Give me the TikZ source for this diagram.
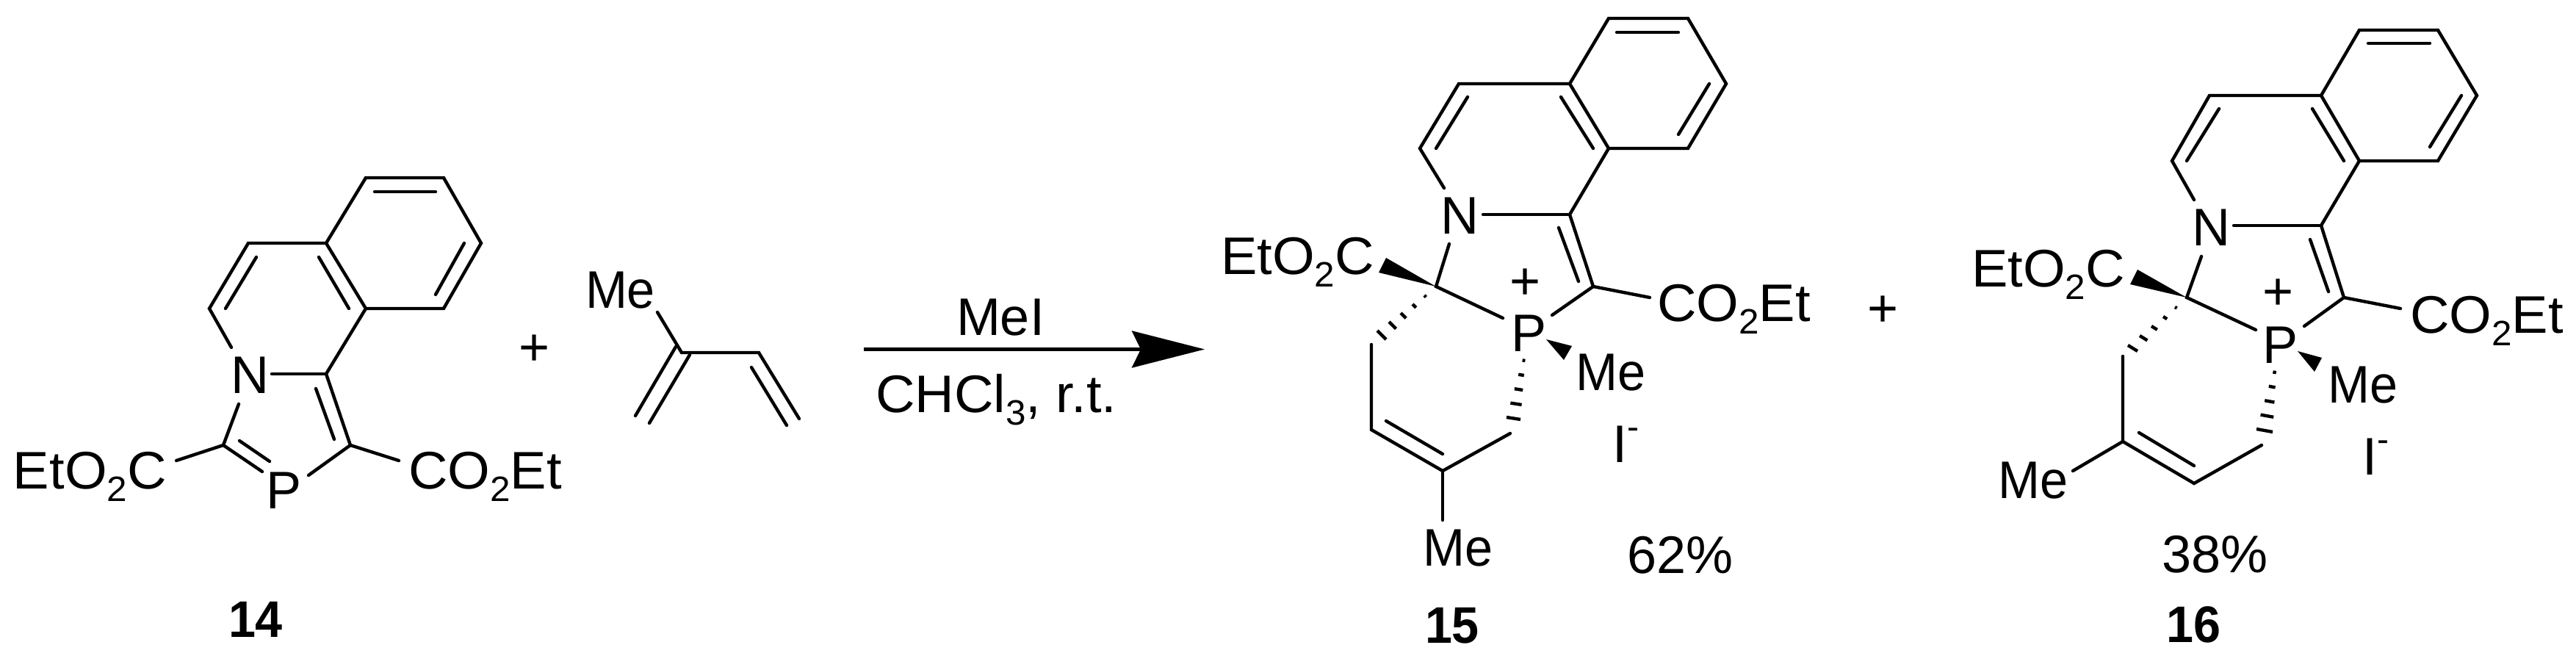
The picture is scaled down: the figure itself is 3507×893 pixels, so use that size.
\documentclass[tikz,border=0pt]{standalone}
\usepackage{fontspec}
\setmainfont{Liberation Sans}
\usetikzlibrary{calc,arrows.meta}
\newcommand{\subn}[1]{\raisebox{-.24em}{\fontsize{24}{24}\selectfont #1}}
\newcommand{\supm}{\raisebox{.44em}{\fontsize{24}{24}\selectfont -}}
\tikzset{
  bond/.style={line width=2.2pt,line cap=round,line join=miter,black},
  hashd/.style={line width=2.2pt,black},
  wedge/.style={fill=black,draw=none},
  lab/.style={inner sep=0pt,outer sep=0pt,anchor=base west,font=\fontsize{36}{36}\selectfont},
  labf/.style={lab,xscale=1.03},
  labme/.style={lab,xscale=.95},
  labc/.style={inner sep=0pt,outer sep=0pt,anchor=center,font=\fontsize{36}{36}\selectfont},
  num/.style={inner sep=0pt,outer sep=0pt,anchor=base west,xscale=.95,font=\fontsize{35}{35}\selectfont\bfseries},
}
\newcommand{\hashbond}[3]{\foreach \t in {.2,.4,.6,.8,1}{\draw[hashd] ($(#1)!\t!(#2)$) -- ($(#1)!\t!(#3)$);}}
\begin{document}
\begin{tikzpicture}[x=0.5pt,y=-0.5pt]
\useasboundingbox (0,0) rectangle (3507,893);
\fill[white] (0,0) rectangle (3507,893);
% ---- atom positions
\foreach \n/\x/\y in {
 % 14
 a1/498/242,a2/604/242,a3/655/331,a4/604/420,a5/498/420,a6/444/331,a7/338/331,a8/285/420,a9/315/473,
 a10/444/509,a11/370/509,a12/477/606,a13/420/647,a14/304/606,a15/357/642,a16/325/550,a17/240/627,a18/543/627,
 ai1/510/261,ai2/593/261,ai3/632/331,ai4/593/401,ai5/434/350,ai6/475/420,ai7/349/350,ai8/307/420,
 ai9/430/529,ai10/455/598,ai11/326/600,ai12/367/628,
 % isoprene
 d1/895/425,d2/928/480,d3/1033/480,d4/1088/570,d5/1023/500,d6/1071/579,d7/920/472,d8/865/566,d9/939/483,d10/884/576,
 % arrow
 arrS/1176/475.5,arrE/1640/475.5,
 % 15
 b1/2190/25,b2/2298/25,b3/2350/114,b4/2298/202,b5/2190/202,b6/2137/114,b7/1986/114,b8/1933/202,b9/1966/256,
 b10/2137/292,b11/2019/292,b12/2169/390,b13/2113/429,b14/2246/405,b15/1955/390,b16/1973/332,b17/2046/433,
 b18/1867/469,b19/1867/585,b20/1964/641,b21/2056/590,b22/1964/708,
 bi1/2201/44,bi2/2285/44,bi3/2327/114,bi4/2285/183,bi5/2125/132,bi6/2169/202,bi7/1998/132,bi8/1955/202,
 bi9/2122/310,bi10/2149/383,bi11/1887/573,bi12/1964/618,
 bw1/1887/351,bw2/1877/371,bh1/1875/450,bh2/1887/462,bp/2078/471,bp1/2051/568,bp2/2070/571,
 bm/2105/462,bm1/2140/471,bm2/2129/490,
 % 16
 c1/3212/41,c2/3319/41,c3/3372/130,c4/3319/219,c5/3212/219,c6/3160/130,c7/3008/130,c8/2957/219,c9/2987/272,
 c10/3160/307,c11/3041/307,c12/3191/405,c13/3137/444,c14/3268/420,c15/2977/405,c16/2997/349,c17/3071/449,
 c18/2890/485,c19/2890/601,c20/2987/658,c21/3079/606,c22/2822/641,
 ci1/3224/59,ci2/3308/59,ci3/3351/130,ci4/3308/200,ci5/3148/148,ci6/3191/219,ci7/3021/148,ci8/2977/219,
 ci9/3145/326,ci10/3170/397,ci11/2912/589,ci12/2987/634,
 cw1/2910/367,cw2/2900/387,ch1/2897/470,ch2/2910/478,cp/3100/487,cp1/3072/584,cp2/3094/588,
 cm/3128/478,cm1/3161/487,cm2/3151/506}
 {\coordinate (\n) at (\x,\y);}
% ---- labels
\node[labf] (t14a) at (18,665) {EtO\subn{2}C};
\node[labf] (t14b) at (556,665) {CO\subn{2}Et};
\node[labc] (t14N) at (340,511) {N};
\node[labc] (t14P) at (387,668) {P};
\node[num] (n14) at (311,867) {14};
\node[labc] (plus1) at (728,477) {+};
\node[labme] (tdMe) at (797,419) {Me};
\node[lab,anchor=base] (tMeI) at (1362,456) {MeI};
\node[labf] (tCHCl) at (1192,561) {CHCl\subn{3}, r.t.};
% 15
\node[labc] (t15N) at (1987,294) {N};
\node[labc] (t15P) at (2081,454) {P};
\node[labc] (t15plus) at (2076,387) {+};
\node[labf] (t15a) at (1662,373) {EtO\subn{2}C};
\node[labf] (t15b) at (2256,437) {CO\subn{2}Et};
\node[labme] (t15m1) at (2145,531) {Me};
\node[labme] (t15m2) at (1937,770) {Me};
\node[lab] (t15i) at (2195,629) {I\supm};
\node[lab] (t15y) at (2215,780) {62\%};
\node[num] (n15) at (1940,875) {15};
\node[labc] (plus2) at (2563,424) {+};
% 16
\node[labc] (t16N) at (3010,310) {N};
\node[labc] (t16P) at (3104,470) {P};
\node[labc] (t16plus) at (3101,401) {+};
\node[labf] (t16a) at (2684,390) {EtO\subn{2}C};
\node[labf] (t16b) at (3281,453) {CO\subn{2}Et};
\node[labme] (t16m1) at (3169,548) {Me};
\node[labme] (t16m2) at (2720,678) {Me};
\node[lab] (t16i) at (3216,646) {I\supm};
\node[lab] (t16y) at (2943,779) {38\%};
\node[num] (n16) at (2949,874) {16};
% ---- 14 bonds
\draw[bond] (a6)--(a1)--(a2)--(a3)--(a4)--(a5)--(a6)--(a7)--(a8)--(a9);
\draw[bond] (a5)--(a10)--(a12)--(a13);
\draw[bond] (a11)--(a10);
\draw[bond] (a16)--(a14)--(a15);
\draw[bond] (a14)--(a17);
\draw[bond] (a12)--(a18);
\foreach \p/\q in {ai1/ai2,ai3/ai4,ai5/ai6,ai7/ai8,ai9/ai10,ai11/ai12}{\draw[bond] (\p)--(\q);}
% ---- isoprene
\draw[bond] (d1)--(d2)--(d3)--(d4);
\draw[bond] (d5)--(d6);
\draw[bond] (d7)--(d8);
\draw[bond] (d9)--(d10);
% ---- arrow
\draw[line width=2.2pt,-{Stealth[length=49.5pt,width=25pt,inset=6pt]}] (arrS)--(arrE);
% ---- 15 bonds
\draw[bond] (b6)--(b1)--(b2)--(b3)--(b4)--(b5)--(b6)--(b7)--(b8)--(b9);
\draw[bond] (b5)--(b10)--(b12)--(b13);
\draw[bond] (b11)--(b10);
\draw[bond] (b12)--(b14);
\draw[bond] (b16)--(b15)--(b17);
\draw[bond] (b18)--(b19)--(b20)--(b21);
\draw[bond] (b20)--(b22);
\foreach \p/\q in {bi1/bi2,bi3/bi4,bi5/bi6,bi7/bi8,bi9/bi10,bi11/bi12}{\draw[bond] (\p)--(\q);}
\fill[wedge] (b15)--(bw1)--(bw2)--cycle;
\fill[wedge] (bm)--(bm1)--(bm2)--cycle;
\hashbond{b15}{bh1}{bh2}
\hashbond{bp}{bp1}{bp2}
% ---- 16 bonds
\draw[bond] (c6)--(c1)--(c2)--(c3)--(c4)--(c5)--(c6)--(c7)--(c8)--(c9);
\draw[bond] (c5)--(c10)--(c12)--(c13);
\draw[bond] (c11)--(c10);
\draw[bond] (c12)--(c14);
\draw[bond] (c16)--(c15)--(c17);
\draw[bond] (c18)--(c19)--(c20)--(c21);
\draw[bond] (c19)--(c22);
\foreach \p/\q in {ci1/ci2,ci3/ci4,ci5/ci6,ci7/ci8,ci9/ci10,ci11/ci12}{\draw[bond] (\p)--(\q);}
\fill[wedge] (c15)--(cw1)--(cw2)--cycle;
\fill[wedge] (cm)--(cm1)--(cm2)--cycle;
\hashbond{c15}{ch1}{ch2}
\hashbond{cp}{cp1}{cp2}
\end{tikzpicture}
\end{document}
